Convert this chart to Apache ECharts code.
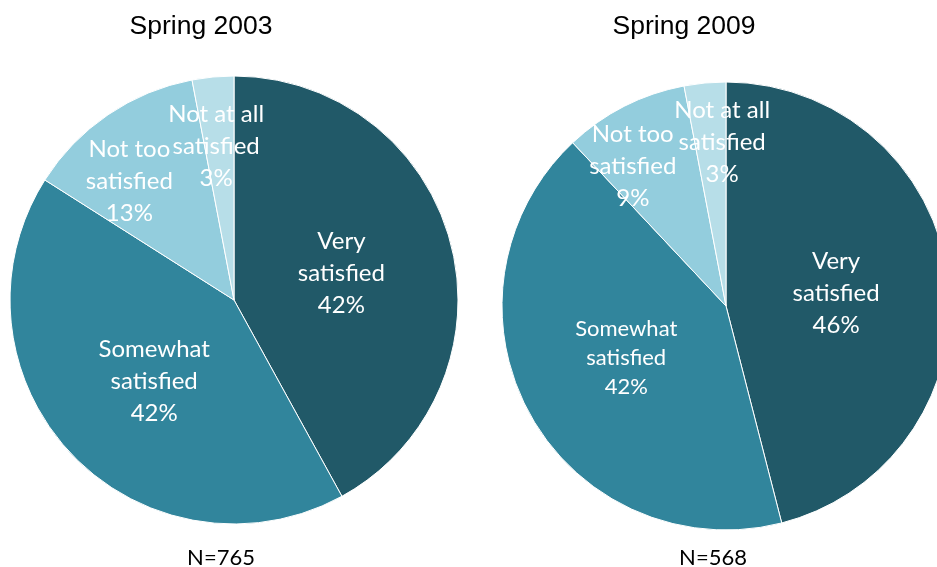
<!DOCTYPE html>
<html>
<head>
<meta charset="utf-8">
<script src="https://cdn.jsdelivr.net/npm/echarts@6/dist/echarts.min.js"></script>
<style>
  html, body { margin: 0; padding: 0; background: #fff; }
  #chart { width: 937px; height: 567px; }
</style>
</head>
<body>
<div id="chart"></div>
<script>
// 类别与数值
var categories = ['Very\nsatisfied', 'Somewhat\nsatisfied', 'Not too\nsatisfied', 'Not at all\nsatisfied'];
var values2003 = [42, 42, 13, 3];
var values2009 = [46, 42, 9, 3];
var titles = ['Spring 2003', 'Spring 2009'];
var sampleSizes = ['N=765', 'N=568'];

var colors = ['#215968', '#31859C', '#93CDDD', '#B7DEE8'];
// 标签微调（像 Excel 那样的标签位置）
var labelOffsets2003 = [[-4, 2], [4, 3], [-40, -24], [-7, -39]];
var labelOffsets2009 = [[-4, 2], [1, -3], [-41, -37], [7, -49]];
// 右图 "Somewhat" 标签字号偏小
var labelSizes2003 = [[24, 32], [24, 32], [24, 32], [24, 32]];
var labelSizes2009 = [[24, 32], [22, 29], [24, 32], [24, 32]];

function buildData(values, offsets, sizes) {
  return values.map(function (v, i) {
    return {
      name: categories[i],
      value: v,
      label: { offset: offsets[i], fontSize: sizes[i][0], lineHeight: sizes[i][1] }
    };
  });
}

var chartDom = document.getElementById('chart');
var myChart = echarts.init(chartDom);
var option;

var titleStyle = { fontFamily: 'Liberation Sans', fontSize: 26.5, fontWeight: 'normal', color: '#000' };
var nStyle = { fontFamily: 'Lato', fontSize: 22, fontWeight: 'normal', color: '#000' };

function pieSeries(name, center, data) {
  return {
    name: name,
    type: 'pie',
    center: center,
    radius: 224,
    startAngle: 90,
    clockwise: true,
    animation: false,
    avoidLabelOverlap: false,
    labelLayout: { hideOverlap: false },
    itemStyle: { borderColor: '#fff', borderWidth: 1 },
    label: {
      show: true,
      position: 'inside',
      formatter: '{b}\n{c}%',
      color: '#fff',
      fontFamily: 'Lato',
      fontSize: 24,
      lineHeight: 32
    },
    emphasis: { disabled: true },
    data: data
  };
}

option = {
  color: colors,
  title: [
    { text: titles[0], left: 201, top: 13, padding: 0, textAlign: 'center', textStyle: titleStyle },
    { text: titles[1], left: 684, top: 13, padding: 0, textAlign: 'center', textStyle: titleStyle },
    { text: sampleSizes[0], left: 221, top: 547, padding: 0, textAlign: 'center', textStyle: nStyle },
    { text: sampleSizes[1], left: 713, top: 547, padding: 0, textAlign: 'center', textStyle: nStyle }
  ],
  series: [
    pieSeries(titles[0], [234, 300], buildData(values2003, labelOffsets2003, labelSizes2003)),
    pieSeries(titles[1], [726, 306], buildData(values2009, labelOffsets2009, labelSizes2009))
  ]
};

option && myChart.setOption(option);
</script>
</body>
</html>
